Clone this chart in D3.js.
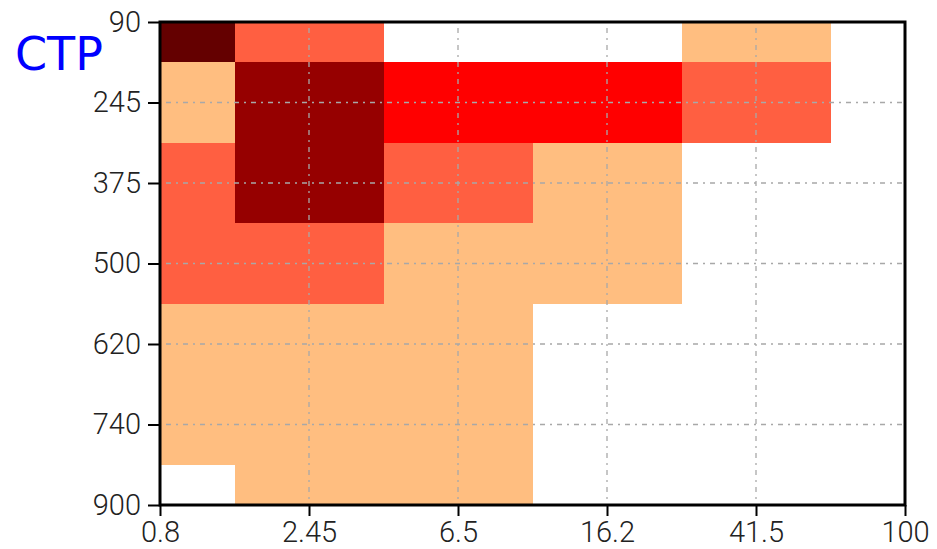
<!DOCTYPE html>
<html>
<head>
<meta charset="utf-8">
<script src="https://cdn.jsdelivr.net/npm/d3@7"></script>
<style>
  body { margin: 0; background: #fff; }
</style>
</head>
<body>
<div id="chart"></div>
<script>
"use strict";

/* DATA */

// x categories (optical thickness) and y categories (cloud top pressure)
let xTicks = ["0.8", "2.45", "6.5", "16.2", "41.5", "100"];
let yTicks = ["90", "245", "375", "500", "620", "740", "900"];

// colour class of every cell, one row per pressure level (0 = empty)
let row90  = [5, 2, 0, 0, 1, 0];
let row245 = [1, 4, 3, 3, 2, 0];
let row375 = [2, 4, 2, 1, 0, 0];
let row500 = [2, 2, 1, 1, 0, 0];
let row620 = [1, 1, 1, 0, 0, 0];
let row740 = [1, 1, 1, 0, 0, 0];
let row900 = [0, 1, 1, 0, 0, 0];
let cellRows = [row90, row245, row375, row500, row620, row740, row900];

let classColors = ["#ffffff", "#ffbe80", "#ff5f41", "#ff0000", "#960000", "#640000"];


/* SVG SETUP */

let svgWidth = 937;
let svgHeight = 549;

let svg = d3.select("#chart")
    .append("svg")
    .attr("width", svgWidth)
    .attr("height", svgHeight);

// plot area
let plotLeft = 160, plotRight = 905, plotTop = 22, plotBottom = 505;


/* SCALES */

let xScale = d3.scalePoint()
    .domain(xTicks)
    .range([plotLeft, plotRight]);

let yScale = d3.scalePoint()
    .domain(yTicks)
    .range([plotTop, plotBottom]);

let colorScale = d3.scaleOrdinal()
    .domain(d3.range(classColors.length))
    .range(classColors);

let halfX = xScale.step() / 2;
let halfY = yScale.step() / 2;


/* CELLS */

// each cell is centred on its grid point, edge cells clipped to the frame
let cells = [];
cellRows.forEach(function (row, j) {
    row.forEach(function (v, i) {
        cells.push({ x: xTicks[i], y: yTicks[j], v: v });
    });
});

function x0(d) { return Math.round(Math.max(plotLeft, xScale(d.x) - halfX)); }
function x1(d) { return Math.round(Math.min(plotRight, xScale(d.x) + halfX)); }
function y0(d) { return Math.round(Math.max(plotTop, yScale(d.y) - halfY)); }
function y1(d) { return Math.round(Math.min(plotBottom, yScale(d.y) + halfY)); }

svg.append("g")
    .attr("shape-rendering", "crispEdges")
    .selectAll("rect")
    .data(cells.filter(d => d.v > 0))
    .join("rect")
    .attr("x", x0)
    .attr("y", y0)
    .attr("width", d => x1(d) - x0(d))
    .attr("height", d => y1(d) - y0(d))
    .attr("fill", d => colorScale(d.v));


/* GRID LINES */

let grid = svg.append("g")
    .attr("stroke", "#a8a8a8")
    .attr("stroke-width", 1.3)
    .attr("stroke-dasharray", "5,5,2,5");

grid.selectAll("line.v")
    .data(xTicks.slice(1, -1))
    .join("line")
    .attr("class", "v")
    .attr("x1", d => xScale(d))
    .attr("x2", d => xScale(d))
    .attr("y1", plotTop + 6)
    .attr("y2", plotBottom);

grid.selectAll("line.h")
    .data(yTicks.slice(1, -1))
    .join("line")
    .attr("class", "h")
    .attr("x1", plotLeft + 6)
    .attr("x2", plotRight)
    .attr("y1", d => yScale(d))
    .attr("y2", d => yScale(d));


/* AXES */

let xAxis = svg.append("g")
    .attr("transform", "translate(0," + plotBottom + ")")
    .call(d3.axisBottom(xScale).tickSize(11).tickPadding(5));

let yAxis = svg.append("g")
    .attr("transform", "translate(" + plotLeft + ",0)")
    .call(d3.axisLeft(yScale).tickSize(12).tickPadding(7));

[xAxis, yAxis].forEach(function (ax) {
    ax.select(".domain").remove();
    ax.selectAll(".tick line").attr("stroke", "#000").attr("stroke-width", 2);
    ax.selectAll(".tick text")
        .attr("fill", "#222")
        .attr("font-family", "Roboto, Liberation Sans, sans-serif")
        .attr("font-weight", 300)
        .attr("font-size", "29px");
});

// frame round the plot
svg.append("rect")
    .attr("x", plotLeft)
    .attr("y", plotTop)
    .attr("width", plotRight - plotLeft)
    .attr("height", plotBottom - plotTop)
    .attr("fill", "none")
    .attr("stroke", "#000")
    .attr("stroke-width", 3);


/* TITLE */

svg.append("text")
    .attr("x", 15)
    .attr("y", 70)
    .attr("fill", "#0000ff")
    .attr("font-family", "Comic Sans MS, DejaVu Sans, sans-serif")
    .attr("font-size", "46px")
    .text("CTP");
</script>
</body>
</html>
